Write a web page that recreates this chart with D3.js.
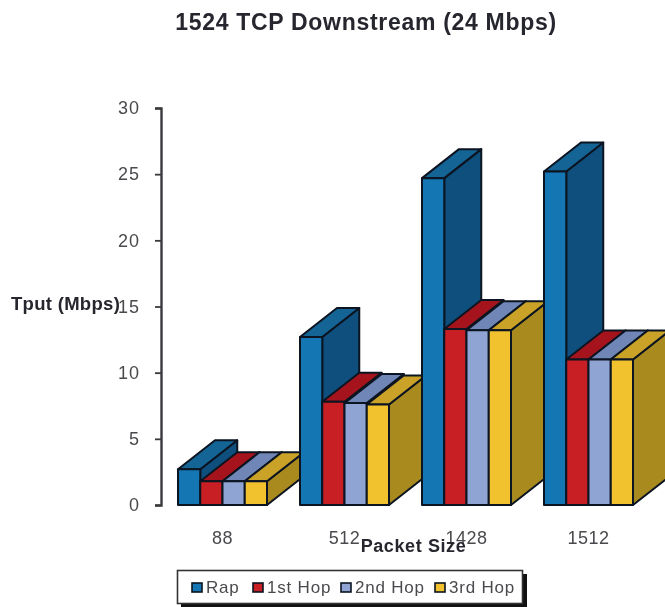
<!DOCTYPE html>
<html><head><meta charset="utf-8">
<style>html,body{margin:0;padding:0;background:#fff;overflow:hidden}svg{display:block;filter:blur(0.45px)}</style>
<script src="https://cdn.jsdelivr.net/npm/d3@7/dist/d3.min.js"></script>
</head><body><svg id="c" width="665" height="607"></svg>
<script>
const categories = ["88","512","1428","1512"];
const seriesNames = ["Rap","1st Hop","2nd Hop","3rd Hop"];
const rap = [2.7,12.7,24.7,25.2];
const hop1 = [1.8,7.8,13.3,11.0];
const hop2 = [1.8,7.7,13.2,11.0];
const hop3 = [1.8,7.6,13.2,11.0];
const yTicks = [0,5,10,15,20,25,30];
const frontColors = ["#1576b4","#c81f24","#8fa4d2","#f1c12e"];
const topColors = ["#156496","#a5141c","#6f86b6","#c9a227"];
const sideColors = ["#0f4f7d","#8c1016","#5f739d","#a98a1f"];
const series = [rap,hop1,hop2,hop3];

const svg = d3.select("#c");
const y = d3.scaleLinear().domain([0,30]).range([505,108]);
const x0 = d3.scaleBand().domain(categories).range([178,666]);
const x1 = d3.scaleBand().domain(seriesNames).range([0,89]);
const DX = 37, DY = 29;
const stroke = "#0b1420";
const pts = a => a.map(p=>p.join(",")).join(" ");

const bars = svg.append("g").attr("stroke-width",2).attr("stroke-linejoin","round");
categories.forEach((c,i)=>{
  seriesNames.forEach((s,j)=>{
    const l = x0(c)+x1(s), r = l+x1.bandwidth(), t = y(series[j][i]), b = y(0);
    bars.append("polygon").attr("points",pts([[r,t],[r+DX,t-DY],[r+DX,b-DY],[r,b]])).attr("fill",sideColors[j]).attr("stroke",stroke);
    bars.append("polygon").attr("points",pts([[l,t],[l+DX,t-DY],[r+DX,t-DY],[r,t]])).attr("fill",topColors[j]).attr("stroke",stroke);
    bars.append("rect").attr("x",l).attr("y",t).attr("width",r-l).attr("height",b-t).attr("fill",frontColors[j]).attr("stroke",stroke);
  });
});

const axisG = svg.append("g").attr("transform","translate(161,0)")
  .call(d3.axisLeft(y).tickValues(yTicks).tickSize(6).tickPadding(15));
axisG.select(".domain").attr("stroke","#3a3a3e").attr("stroke-width",2.4);
axisG.selectAll("line").attr("stroke","#3a3a3e").attr("stroke-width",1.8);
axisG.selectAll("text").attr("font-family","Liberation Sans").attr("font-size",18).attr("letter-spacing",1).attr("fill","#4a4a4e");

svg.append("g").selectAll("text").data(categories).join("text")
  .attr("x",c=>x0(c)+44.5).attr("y",544).attr("text-anchor","middle")
  .attr("font-family","Liberation Sans").attr("font-size",18).attr("letter-spacing",0.5).attr("fill","#4a4a4e").text(c=>c);

svg.append("text").attr("x",366).attr("y",30).attr("text-anchor","middle")
  .attr("font-family","Liberation Sans").attr("font-weight","bold").attr("font-size",23).attr("letter-spacing",0.7).attr("fill","#26262e")
  .text("1524 TCP Downstream (24 Mbps)");
svg.append("text").attr("x",11).attr("y",310)
  .attr("font-family","Liberation Sans").attr("font-weight","bold").attr("font-size",18.5).attr("letter-spacing",0.3).attr("fill","#26262e")
  .text("Tput (Mbps)");
svg.append("text").attr("x",413.5).attr("y",552).attr("text-anchor","middle")
  .attr("font-family","Liberation Sans").attr("font-weight","bold").attr("font-size",18).attr("letter-spacing",0.6).attr("fill","#26262e")
  .text("Packet Size");

// legend
svg.append("rect").attr("x",181).attr("y",574).attr("width",346).attr("height",33).attr("fill","#111");
svg.append("rect").attr("x",177.5).attr("y",570.5).attr("width",345).attr("height",33).attr("fill","#fff").attr("stroke","#333").attr("stroke-width",1.6);
const legX = d3.scaleOrdinal().domain(seriesNames).range([192,253,341,435]);
const leg = svg.append("g").selectAll("g").data(seriesNames).join("g").attr("transform",d=>`translate(${legX(d)},0)`);
leg.append("rect").attr("y",583).attr("width",10).attr("height",9).attr("fill",(d,i)=>frontColors[i]).attr("stroke",stroke).attr("stroke-width",1.6);
leg.append("text").attr("x",14).attr("y",592.5).attr("font-family","Liberation Sans").attr("font-size",17).attr("letter-spacing",0.8).attr("fill","#4a4a4e").text(d=>d);
</script></body></html>
